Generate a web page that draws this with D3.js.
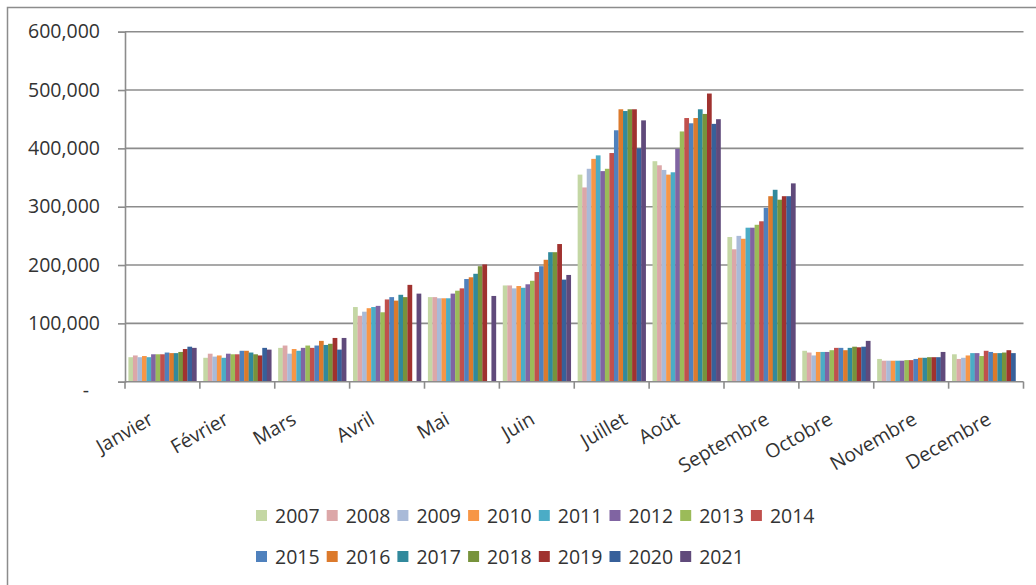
<!DOCTYPE html>
<html>
<head>
<meta charset="utf-8">
<script src="https://cdn.jsdelivr.net/npm/d3@7"></script>
<style>
  body { margin: 0; background: #fff; }
  svg { display: block; }
  text { font-family: "Open Sans", sans-serif; fill: #333; }
</style>
</head>
<body>
<svg id="chart" width="1036" height="585"></svg>
<script>
// Monthly visitor counts, one value per year 2007–2021
const months = ["Janvier", "Février", "Mars", "Avril", "Mai", "Juin", "Juillet", "Août", "Septembre", "Octobre", "Novembre", "Decembre"];
const years = ["2007", "2008", "2009", "2010", "2011", "2012", "2013", "2014", "2015", "2016", "2017", "2018", "2019", "2020", "2021"];

const janvier   = [42000, 45000, 42000, 44000, 42000, 47000, 47000, 47000, 50000, 49000, 49000, 51000, 56000, 60000, 58000];
const fevrier   = [41000, 48000, 43000, 45000, 41000, 48000, 47000, 47000, 53000, 53000, 50000, 47000, 45000, 58000, 55000];
const mars      = [58000, 62000, 48000, 56000, 53000, 58000, 62000, 58000, 62000, 70000, 63000, 65000, 75000, 55000, 75000];
const avril     = [128000, 113000, 120000, 126000, 128000, 130000, 119000, 141000, 145000, 139000, 149000, 145000, 166000, 0, 151000];
const mai       = [145000, 145000, 143000, 143000, 143000, 151000, 156000, 160000, 176000, 179000, 185000, 198000, 201000, 0, 147000];
const juin      = [165000, 165000, 160000, 164000, 161000, 167000, 173000, 188000, 198000, 209000, 222000, 222000, 236000, 175000, 183000];
const juillet   = [355000, 333000, 365000, 382000, 388000, 361000, 365000, 392000, 431000, 467000, 464000, 467000, 467000, 400000, 448000];
const aout      = [378000, 371000, 363000, 355000, 359000, 399000, 429000, 452000, 443000, 452000, 467000, 459000, 494000, 442000, 450000];
const septembre = [248000, 227000, 250000, 245000, 264000, 264000, 269000, 275000, 298000, 318000, 329000, 312000, 318000, 318000, 340000];
const octobre   = [53000, 50000, 45000, 51000, 51000, 51000, 54000, 58000, 58000, 54000, 58000, 60000, 59000, 60000, 70000];
const novembre  = [39000, 36000, 36000, 36000, 36000, 36000, 37000, 37000, 39000, 41000, 41000, 42000, 42000, 42000, 51000];
const decembre  = [47000, 39000, 41000, 45000, 49000, 49000, 44000, 53000, 51000, 49000, 49000, 50000, 54000, 49000, null];

const monthValues = [janvier, fevrier, mars, avril, mai, juin, juillet, aout, septembre, octobre, novembre, decembre];

const yTicks = [0, 100000, 200000, 300000, 400000, 500000, 600000];

const yearColors = ["#c4d7a4", "#dca7a8", "#a9bad8", "#f79646", "#4bacc6", "#8064a2", "#9bbb59", "#c0504d",
                    "#4f81bd", "#dc7a2c", "#31899c", "#77933c", "#a0322f", "#37609a", "#604a7b"];

const svg = d3.select("#chart");
const plotLeft = 125, plotRight = 1023.5, plotTop = 31.7, plotBottom = 381.7;
const gridColor = "#8c8c8c";
const fontSize = "19.5px";

// chart frame
svg.append("rect")
  .attr("x", 7.5).attr("y", 7.5)
  .attr("width", 1100).attr("height", 700)
  .attr("fill", "none").attr("stroke", gridColor).attr("stroke-width", 1.5);

const x = d3.scaleBand().domain(months).range([plotLeft, plotRight]).paddingInner(0).paddingOuter(0);
const xYear = d3.scaleBand().domain(years).range([0, x.bandwidth()]).paddingInner(0).paddingOuter(0.75);
const y = d3.scaleLinear().domain([0, 600000]).range([plotBottom, plotTop]);
const color = d3.scaleOrdinal().domain(years).range(yearColors);

// horizontal gridlines
svg.append("g")
  .selectAll("line")
  .data(yTicks.filter(d => d > 0))
  .join("line")
  .attr("x1", plotLeft).attr("x2", plotRight)
  .attr("y1", d => y(d)).attr("y2", d => y(d))
  .attr("stroke", gridColor).attr("stroke-width", 1.6);

// bars
const groups = svg.append("g")
  .selectAll("g")
  .data(months)
  .join("g")
  .attr("transform", d => `translate(${x(d)},0)`);

groups.selectAll("rect")
  .data((m, i) => years.map((yr, j) => ({ year: yr, value: monthValues[i][j] }))
                       .filter(d => d.value != null && d.value > 0))
  .join("rect")
  .attr("x", d => xYear(d.year))
  .attr("width", xYear.bandwidth() + 0.2)
  .attr("y", d => y(d.value))
  .attr("height", d => y(0) - y(d.value))
  .attr("fill", d => color(d.year));

// y axis
const fmt = d3.format(",");
const yAxis = svg.append("g")
  .attr("transform", `translate(${plotLeft},0)`)
  .call(d3.axisLeft(y).tickValues(yTicks).tickSize(7).tickPadding(18)
        .tickFormat(d => d === 0 ? "-" : fmt(d)));
yAxis.select(".domain").attr("stroke", gridColor).attr("stroke-width", 1.6);
yAxis.selectAll(".tick line").attr("stroke", gridColor).attr("stroke-width", 1.6);
yAxis.selectAll(".tick text")
  .attr("font-size", fontSize)
  .attr("font-family", "Open Sans, sans-serif")
  .attr("fill", "#333");
yAxis.selectAll(".tick").filter(d => d === 0).select("text")
  .attr("x", -36).attr("dy", "0.75em");

// x axis line and category boundary ticks
const xAxis = svg.append("g");
xAxis.append("line")
  .attr("x1", plotLeft).attr("x2", plotRight)
  .attr("y1", plotBottom).attr("y2", plotBottom)
  .attr("stroke", gridColor).attr("stroke-width", 1.6);
const bounds = months.map(m => x(m)).concat([x(months[months.length - 1]) + x.bandwidth()]);
xAxis.selectAll("line.tk")
  .data(bounds)
  .join("line")
  .attr("class", "tk")
  .attr("x1", d => d).attr("x2", d => d)
  .attr("y1", plotBottom).attr("y2", plotBottom + 7)
  .attr("stroke", gridColor).attr("stroke-width", 1.6);

// rotated month labels: the rotated box is centred a little left of each category centre,
// with a small per-label horizontal nudge
const labelNudge = [0, 0, 0, 6, 9, 19, 30, 10, 0, 0, 0, 0];
const angle = 30, rad = angle * Math.PI / 180, lineH = 14;
xAxis.selectAll("text")
  .data(months)
  .join("text")
  .attr("text-anchor", "end")
  .attr("font-size", fontSize)
  .text(d => d)
  .attr("transform", function (d, i) {
    const len = this.getComputedTextLength();
    const boxW = len * Math.cos(rad) + lineH * Math.sin(rad);
    const endX = x(d) + x.bandwidth() / 2 - 38 + boxW / 2 + labelNudge[i];
    return `translate(${endX},423) rotate(${-angle})`;
  });

// legend
const legend = svg.append("g");
const items = legend.selectAll("g")
  .data(years)
  .join("g")
  .attr("transform", (d, i) => {
    const row = i < 8 ? 0 : 1;
    const col = i < 8 ? i : i - 8;
    return `translate(${256 + col * 70.7},${row === 0 ? 510 : 551})`;
  });
items.append("rect")
  .attr("width", 11).attr("height", 11)
  .attr("fill", d => color(d));
items.append("text")
  .attr("x", 19).attr("y", 13)
  .attr("font-size", fontSize)
  .text(d => d);
</script>
</body>
</html>
